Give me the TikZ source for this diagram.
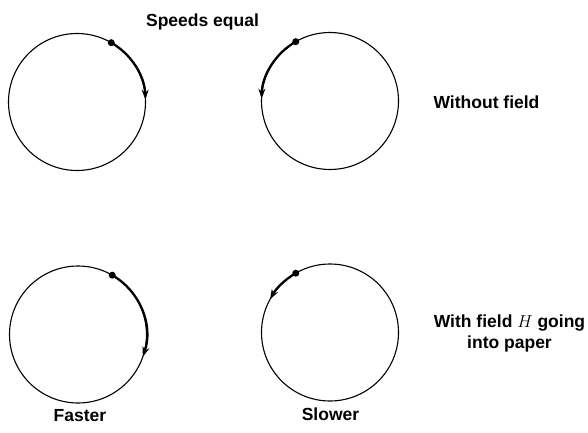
\documentclass[tikz,border=0pt]{standalone}
\usepackage{fontspec}
\setmainfont{Liberation Sans}
\usetikzlibrary{arrows.meta, positioning}

\begin{document}
\begin{tikzpicture}[x=1pt, y=1pt,
        orbit/.style={draw, circle, line width=1.1pt, minimum size=137pt, inner sep=0pt, outer sep=0pt},
        electron/.style={circle, fill, inner sep=0pt, minimum size=7pt},
        motion/.style={line width=2.3pt, -{Stealth[length=10pt, width=7pt]}},
        caption/.style={font=\bfseries\fontsize{17.5}{21}\selectfont, anchor=base}]
        \useasboundingbox (0,0) rectangle (588,432);

        % orbits without field
        \node[orbit] (orbitA) at (77,330) {};
        \node[orbit] (orbitB) at (330,331) {};
        % orbits with field
        \node[orbit] (orbitC) at (78,97.5) {};
        \node[orbit] (orbitD) at (330,99.5) {};

        \node[electron] (dotA) at (orbitA.60) {};
        \node[electron] (dotB) at (orbitB.120) {};
        \node[electron] (dotC) at (orbitC.60) {};
        \node[electron] (dotD) at (orbitD.120) {};

        \draw[motion] (dotA.center) arc[start angle=60, end angle=2, radius=68.5pt];
        \draw[motion] (dotB.center) arc[start angle=120, end angle=178, radius=68.5pt];
        \draw[motion] (dotC.center) arc[start angle=60, end angle=-19, radius=68.5pt];
        \draw[motion] (dotD.center) arc[start angle=120, end angle=151, radius=68.5pt];

        \node[caption] (speeds) at (202.5,405) {Speeds equal};
        \node[caption] (nofield) at (486.5,324) {Without field};
        \node[caption, align=center, anchor=center] (withfield) at (509.5,99) {With field $H$ going\\into paper};
        \node[caption] (faster) at (80,11) {Faster};
        \node[caption] (slower) at (330.5,11.5) {Slower};
    \end{tikzpicture}
\end{document}
